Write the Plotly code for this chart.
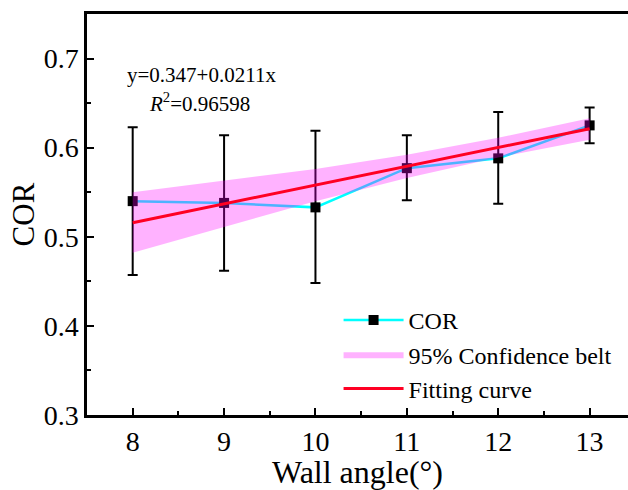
import plotly.graph_objects as go

# Data
wall_angle = [8, 9, 10, 11, 12, 13]
cor = [0.540, 0.538, 0.533, 0.577, 0.588, 0.625]
err_up = [0.083, 0.076, 0.086, 0.037, 0.052, 0.020]
err_down = [0.083, 0.076, 0.085, 0.036, 0.051, 0.020]
fit_x = [8, 13]
fit_a = 0.347
fit_b = 0.0211
fit_y = [fit_a + fit_b * v for v in fit_x]
band_upper = [0.550, 0.563, 0.576, 0.592, 0.611, 0.633]
band_lower = [0.482, 0.511, 0.540, 0.566, 0.589, 0.609]

FONT = "Liberation Serif, Times New Roman, serif"

fig = go.Figure()

fig.add_trace(go.Scatter(
    x=wall_angle, y=cor, mode="lines+markers", name="COR",
    line=dict(color="#00FFFF", width=2.5),
    marker=dict(symbol="square", size=10, color="black"),
    error_y=dict(type="data", symmetric=False, array=err_up, arrayminus=err_down,
                 color="black", thickness=2, width=5),
))
fig.add_trace(go.Scatter(
    x=wall_angle, y=band_upper, mode="lines", line=dict(width=0, color="rgba(255,0,255,0.3)"),
    showlegend=False, hoverinfo="skip",
))
fig.add_trace(go.Scatter(
    x=wall_angle, y=band_lower, mode="lines", line=dict(width=0, color="rgba(255,0,255,0.3)"),
    fill="tonexty", fillcolor="rgba(255,0,255,0.3)", name="95% Confidence belt",
))
fig.add_trace(go.Scatter(
    x=fit_x, y=fit_y, mode="lines", name="Fitting curve",
    line=dict(color="rgb(255,0,35)", width=3),
))

fig.add_annotation(x=7.92, y=0.6815, xref="x", yref="y", xanchor="left", yanchor="middle",
                   text="y=0.347+0.0211x", showarrow=False,
                   font=dict(family=FONT, size=21, color="black"))
fig.add_annotation(x=8.16, y=0.651, xref="x", yref="y", xanchor="left", yanchor="middle",
                   text="<i>R</i><sup>2</sup>=0.96598", showarrow=False,
                   font=dict(family=FONT, size=21, color="black"))

fig.update_layout(
    width=628, height=490,
    margin=dict(l=87, r=0, t=14, b=75),
    paper_bgcolor="white", plot_bgcolor="white",
    font=dict(family=FONT, color="black"),
    showlegend=True,
    legend=dict(x=0.465, y=0.292, xanchor="left", yanchor="top", traceorder="normal",
                font=dict(family=FONT, size=24, color="black"),
                bgcolor="rgba(0,0,0,0)", itemwidth=60, tracegroupgap=0),
)

fig.update_xaxes(
    range=[7.5, 13.42], tickvals=wall_angle, ticktext=[str(v) for v in wall_angle],
    showgrid=False, zeroline=False,
    showline=True, linecolor="black", linewidth=2.5, mirror=True,
    ticks="inside", ticklen=7, tickwidth=2, tickcolor="black",
    minor=dict(ticks="inside", ticklen=4, tickwidth=2, tickcolor="black", dtick=0.5, tick0=7.5),
    tickfont=dict(family=FONT, size=28, color="black"),
    title=dict(text="Wall angle(°)", font=dict(family=FONT, size=32, color="black"), standoff=3),
)
fig.update_yaxes(
    range=[0.3, 0.75], tickvals=[0.3, 0.4, 0.5, 0.6, 0.7],
    ticktext=["0.3", "0.4", "0.5", "0.6", "0.7"],
    showgrid=False, zeroline=False,
    showline=True, linecolor="black", linewidth=2.5,
    ticks="inside", ticklen=7, tickwidth=2, tickcolor="black",
    minor=dict(ticks="inside", ticklen=4, tickwidth=2, tickcolor="black", dtick=0.05, tick0=0.3),
    tickfont=dict(family=FONT, size=28, color="black"),
    title=dict(text="COR", font=dict(family=FONT, size=31, color="black"), standoff=0),
)

fig.write_html("out.html")
